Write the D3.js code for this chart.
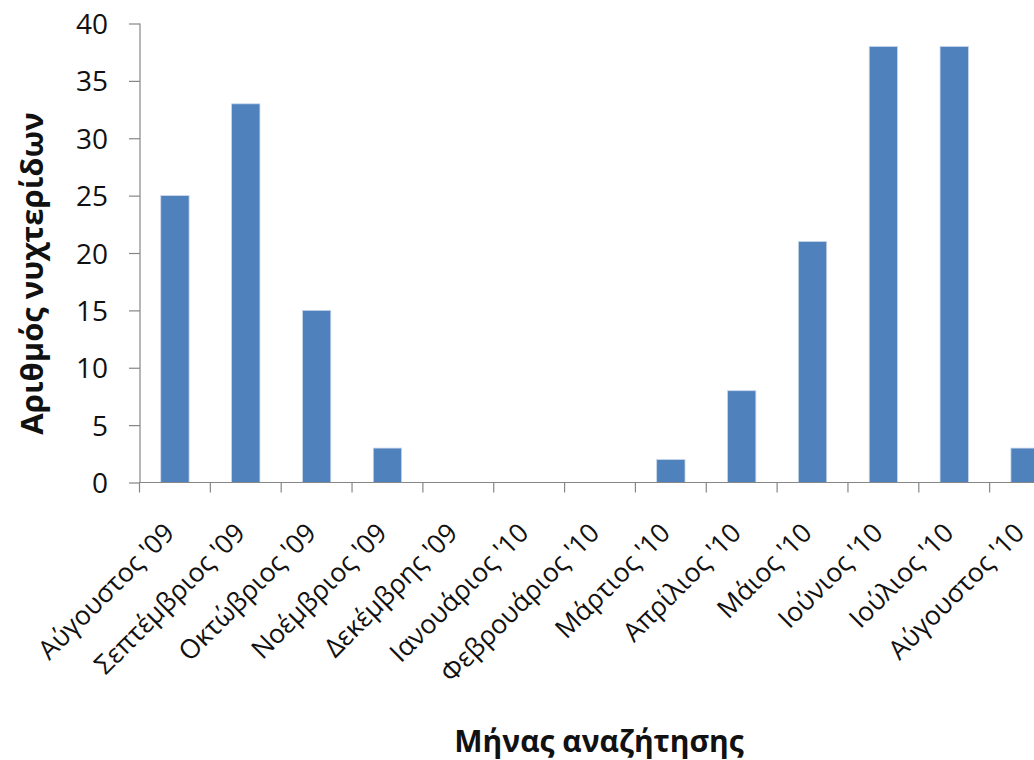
<!DOCTYPE html>
<html><head><meta charset="utf-8">
<script src="https://cdn.jsdelivr.net/npm/d3@7"></script>
<style>body{margin:0;background:#fff}svg{display:block}</style>
</head><body>
<svg id="c" width="1034" height="760"></svg>
<script>
const categories = ["Αύγουστος '09","Σεπτέμβριος '09","Οκτώβριος '09","Νοέμβριος '09","Δεκέμβρης '09","Ιανουάριος '10","Φεβρουάριος '10","Μάρτιος '10","Απρίλιος '10","Μάιος '10","Ιούνιος '10","Ιούλιος '10","Αύγουστος '10"];
const values = [25,33,15,3,0,0,0,2,8,21,38,38,3];
const yTicks = [0,5,10,15,20,25,30,35,40];
const yTitle = "Αριθμός νυχτερίδων";
const xTitle = "Μήνας αναζήτησης";

const svg = d3.select("#c");
const font = "'Open Sans', sans-serif";
const x = d3.scaleBand().domain(categories).range([139.5, 1060.5]).paddingInner(0.6).paddingOuter(0.3);
const y = d3.scaleLinear().domain([0,40]).range([482.5, 23.5]);
const axisColor = "#868686";

// bars
svg.append("g").selectAll("rect").data(values).join("rect")
  .attr("x",(d,i)=>x(categories[i]))
  .attr("y",d=>y(d))
  .attr("width",x.bandwidth())
  .attr("height",d=>y(0)-y(d))
  .attr("fill","#4f81bd")
  .attr("stroke","#c9d7ea").attr("stroke-width",0.8);

// y axis
const ya = svg.append("g").attr("transform","translate(140,0)")
  .call(d3.axisLeft(y).tickValues(yTicks).tickSize(11).tickPadding(21).tickFormat(d3.format("d")));
ya.select(".domain").attr("stroke",axisColor).attr("stroke-width",1.2).attr("d",`M0,${y(40)}V${y(0)}`);
ya.selectAll(".tick line").attr("stroke",axisColor).attr("stroke-width",1.2);
ya.selectAll(".tick text").attr("font-family",font).attr("font-size",28).attr("fill","#111").attr("dy","0.36em");

// x axis: ticks at category boundaries
const xg = svg.append("g");
xg.append("line").attr("x1",139.5).attr("x2",1060.5).attr("y1",y(0)).attr("y2",y(0)).attr("stroke",axisColor).attr("stroke-width",1.2);
const step = x.step();
const bounds = d3.range(categories.length+1).map(i=>x.range()[0]+i*step);
xg.selectAll("line.t").data(bounds).join("line").attr("class","t")
  .attr("x1",d=>d).attr("x2",d=>d).attr("y1",y(0)).attr("y2",y(0)+10).attr("stroke",axisColor).attr("stroke-width",1.2);
xg.selectAll("text").data(categories).join("text")
  .attr("transform",d=>`translate(${x(d)+x.bandwidth()/2+1},${y(0)+52}) rotate(-45)`)
  .attr("text-anchor","end")
  .attr("font-family",font).attr("font-size",26.5).attr("fill","#111")
  .text(d=>d);

// titles
svg.append("text").attr("transform","translate(43,273.5) rotate(-90)")
  .attr("text-anchor","middle").attr("font-family",font).attr("font-weight","bold").attr("font-size",31).attr("fill","#111")
  .text(yTitle);
svg.append("text").attr("x",599).attr("y",752)
  .attr("text-anchor","middle").attr("font-family",font).attr("font-weight","bold").attr("font-size",30).attr("fill","#111")
  .text(xTitle);
</script>
</body></html>
